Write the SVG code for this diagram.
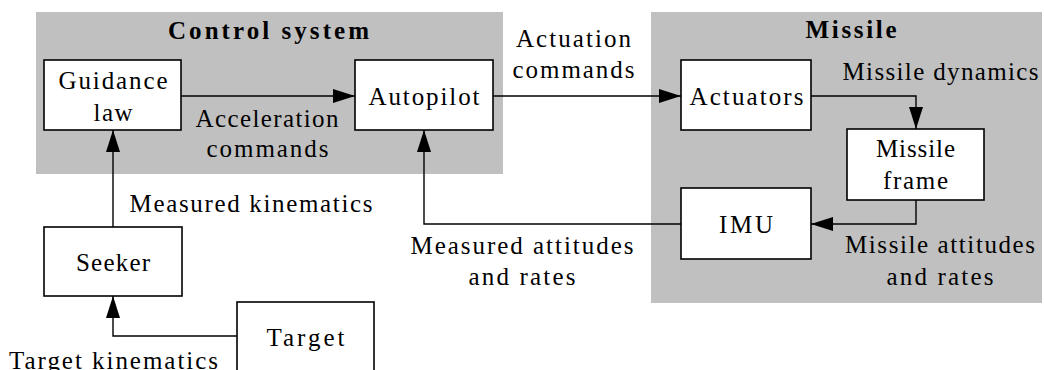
<svg xmlns="http://www.w3.org/2000/svg" width="1044" height="370" viewBox="0 0 1044 370">
  <style>
    .region { fill: #c0c0c0; stroke: none; }
    .block { fill: #ffffff; stroke: #000000; stroke-width: 1.6; }
    .wire { fill: none; stroke: #000000; stroke-width: 1.4; marker-end: url(#head); }
    text { font-family: "Liberation Serif", "DejaVu Serif", serif; font-size: 25px; fill: #000000; text-anchor: middle; }
    .title { font-weight: bold; }
  </style>
  <defs>
    <marker id="head" markerUnits="userSpaceOnUse" markerWidth="24" markerHeight="16" refX="22" refY="7" orient="auto">
      <path d="M0,0 L22,7 L0,14 z" fill="#000000"/>
    </marker>
  </defs>

  <!-- grouping regions -->
  <g id="control-system">
    <rect class="region" x="36" y="12" width="467" height="162"/>
    <text class="title" x="268.5" y="39" textLength="201" lengthAdjust="spacing">Control system</text>
  </g>
  <g id="missile">
    <rect class="region" x="651" y="12" width="391" height="291"/>
    <text class="title" x="851" y="38" textLength="91" lengthAdjust="spacing">Missile</text>
  </g>

  <!-- blocks -->
  <g id="guidance-law">
    <rect class="block" x="44" y="60" width="137" height="70"/>
    <text x="113" y="89" textLength="109" lengthAdjust="spacing">Guidance</text>
    <text x="113" y="121" textLength="39" lengthAdjust="spacing">law</text>
  </g>
  <g id="autopilot">
    <rect class="block" x="355" y="60" width="138" height="70"/>
    <text x="424" y="105" textLength="111" lengthAdjust="spacing">Autopilot</text>
  </g>
  <g id="actuators">
    <rect class="block" x="681" y="60" width="130" height="70"/>
    <text x="746.5" y="105" textLength="114" lengthAdjust="spacing">Actuators</text>
  </g>
  <g id="missile-frame">
    <rect class="block" x="847" y="129" width="137" height="71"/>
    <text x="915.5" y="157" textLength="79" lengthAdjust="spacing">Missile</text>
    <text x="915.5" y="189" textLength="65" lengthAdjust="spacing">frame</text>
  </g>
  <g id="imu">
    <rect class="block" x="681" y="188" width="130" height="71"/>
    <text x="746" y="233" textLength="54" lengthAdjust="spacing">IMU</text>
  </g>
  <g id="seeker">
    <rect class="block" x="44" y="227" width="138" height="69"/>
    <text x="113" y="271" textLength="74" lengthAdjust="spacing">Seeker</text>
  </g>
  <g id="target">
    <rect class="block" x="237" y="302" width="137" height="90"/>
    <text x="305.5" y="346" textLength="78" lengthAdjust="spacing">Target</text>
  </g>

  <!-- signal connectors -->
  <g id="connectors">
    <path class="wire" d="M181,96 H355"/>
    <path class="wire" d="M493,96 H681"/>
    <path class="wire" d="M811,96 H916 V129"/>
    <path class="wire" d="M916,200 V224 H811"/>
    <path class="wire" d="M681,224 H424 V130"/>
    <path class="wire" d="M113,227 V130"/>
    <path class="wire" d="M237,336 H113 V296"/>
  </g>

  <!-- signal labels -->
  <g id="labels">
    <text x="267" y="127" textLength="143" lengthAdjust="spacing">Acceleration</text>
    <text x="267.5" y="157" textLength="122" lengthAdjust="spacing">commands</text>
    <text x="573.5" y="47" textLength="115" lengthAdjust="spacing">Actuation</text>
    <text x="573.5" y="78" textLength="122" lengthAdjust="spacing">commands</text>
    <text x="940.5" y="80" textLength="196" lengthAdjust="spacing">Missile dynamics</text>
    <text x="940" y="253" textLength="190" lengthAdjust="spacing">Missile attitudes</text>
    <text x="940" y="285" textLength="107" lengthAdjust="spacing">and rates</text>
    <text x="522" y="254" textLength="223" lengthAdjust="spacing">Measured attitudes</text>
    <text x="522" y="285" textLength="107" lengthAdjust="spacing">and rates</text>
    <text x="251" y="212" textLength="243" lengthAdjust="spacing">Measured kinematics</text>
    <text x="113.5" y="369" textLength="209" lengthAdjust="spacing">Target kinematics</text>
  </g>
</svg>
